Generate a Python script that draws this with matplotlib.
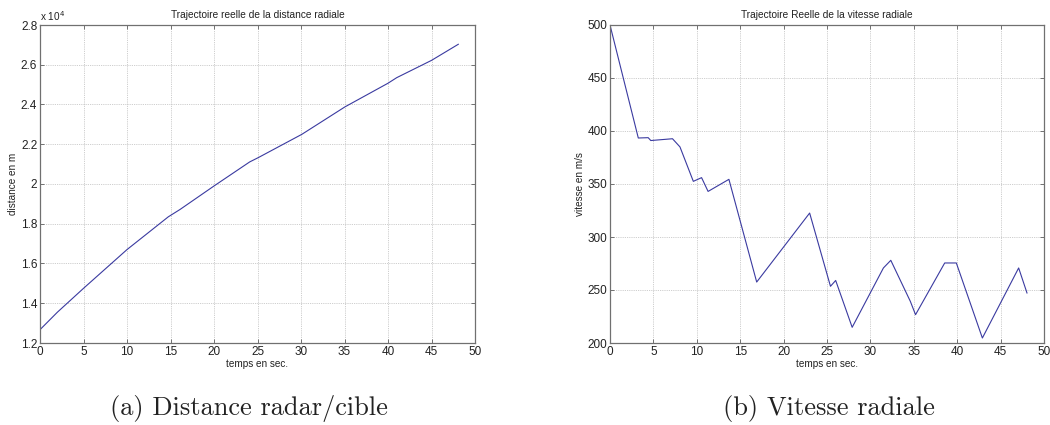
import matplotlib
matplotlib.use("Agg")
import matplotlib.pyplot as plt

# Distance radar/cible (units of 1e4 m)
t_dist = [0, 2, 5, 10, 14.75, 16.1, 20, 24.1, 25.1, 30.1, 35.05, 40, 41, 45, 48.08]
dist = [1.267, 1.355, 1.475, 1.670, 1.835, 1.872, 1.99, 2.111, 2.133, 2.25, 2.388, 2.507,
        2.535, 2.622, 2.703]

# Vitesse radiale (m/s)
t_vit = [0, 3.26, 4.4, 4.7, 7.2, 8.06, 9.6, 10.55, 11.3, 13.7, 16.9, 23.0, 25.4, 26.0,
         27.9, 31.5, 32.35, 34.6, 35.2, 38.56, 39.9, 42.9, 47.08, 48.04]
vit = [500, 393.4, 393.7, 391, 392.7, 385, 352.5, 356, 343, 354.4, 257.5, 322.6, 253.5, 259,
       214.8, 270.8, 278, 239.3, 226.7, 275.5, 275.5, 204.7, 270.8, 247.2]

x_ticks = [0, 5, 10, 15, 20, 25, 30, 35, 40, 45, 50]
dist_ticks = [1.2, 1.4, 1.6, 1.8, 2.0, 2.2, 2.4, 2.6, 2.8]
dist_labels = ["1.2", "1.4", "1.6", "1.8", "2", "2.2", "2.4", "2.6", "2.8"]
vit_ticks = [200, 250, 300, 350, 400, 450, 500]

plt.rcParams['font.family'] = ['Liberation Sans', 'DejaVu Sans']

fig = plt.figure(figsize=(10.5, 4.25), dpi=100)
W, H = 1050, 425
ax1 = fig.add_axes([40 / W, 1 - 343 / H, 435 / W, 318 / H])
ax2 = fig.add_axes([610 / W, 1 - 343 / H, 434 / W, 318 / H])

line_color = '#3a3aa0'
frame_color = '#707070'
text_color = '#222222'

def style(ax):
    for s in ax.spines.values():
        s.set_color(frame_color)
        s.set_linewidth(0.9)
    ax.tick_params(direction='in', length=3, width=0.7, colors=frame_color,
                   labelcolor=text_color, labelsize=8.5, top=True, right=True, pad=2)
    ax.grid(True, linestyle=(0, (1, 1.2)), color='#bdbdbd', linewidth=0.6)
    ax.set_axisbelow(True)

ax1.plot(t_dist, dist, color=line_color, linewidth=0.8)
ax1.set_xlim(0, 50)
ax1.set_ylim(1.2, 2.8)
ax1.set_xticks(x_ticks)
ax1.set_yticks(dist_ticks)
ax1.set_yticklabels(dist_labels)
style(ax1)
ax1.set_title("Trajectoire reelle de la distance radiale", fontsize=7.3, pad=5, color=text_color)
ax1.set_xlabel("temps en sec.", fontsize=7.2, labelpad=1, color=text_color)
ax1.set_ylabel("distance en m", fontsize=7.2, labelpad=2, color=text_color)
ax1.text(0.0, 1.005, r"x 10$^4$", transform=ax1.transAxes, fontsize=7.2,
         ha='left', va='bottom', color=text_color)

ax2.plot(t_vit, vit, color=line_color, linewidth=0.8)
ax2.set_xlim(0, 50)
ax2.set_ylim(200, 500)
ax2.set_xticks(x_ticks)
ax2.set_yticks(vit_ticks)
style(ax2)
ax2.set_title("Trajectoire Reelle de la vitesse radiale", fontsize=7.3, pad=5, color=text_color)
ax2.set_xlabel("temps en sec.", fontsize=7.2, labelpad=1, color=text_color)
ax2.set_ylabel("vitesse en m/s", fontsize=7.2, labelpad=2, color=text_color)

fig.text(249 / W, 1 - 408 / H, "(a) Distance radar/cible", family='cmr10', fontsize=19,
         ha='center', va='center', color=text_color)
fig.text(829 / W, 1 - 408 / H, "(b) Vitesse radiale", family='cmr10', fontsize=19,
         ha='center', va='center', color=text_color)

fig.savefig("out.png", dpi=100)
